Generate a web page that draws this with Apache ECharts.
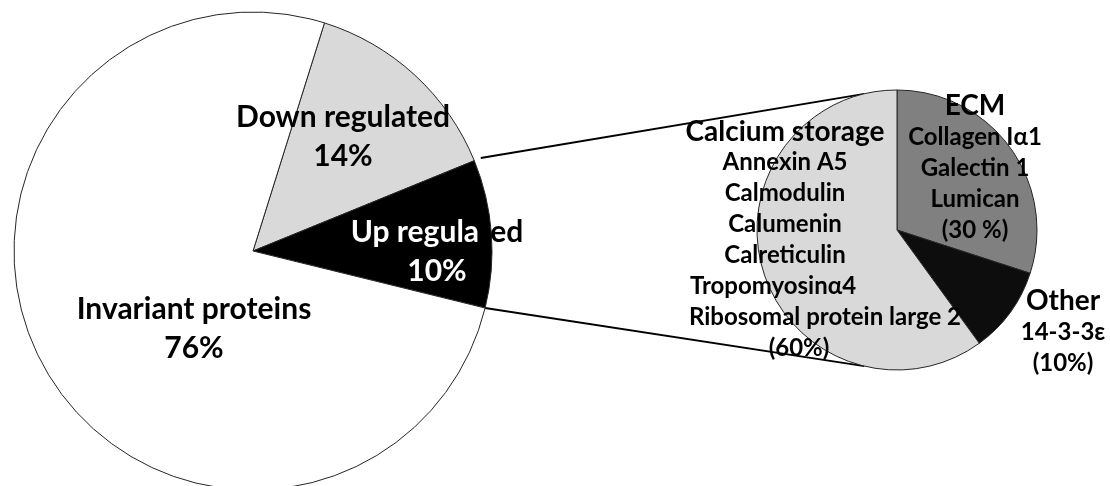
<!DOCTYPE html>
<html>
<head>
<meta charset="utf-8">
<script src="https://cdn.jsdelivr.net/npm/echarts@6/dist/echarts.min.js"></script>
<style>
  html, body { margin: 0; padding: 0; background: #fff; }
  #chart { width: 1110px; height: 486px; }
</style>
</head>
<body>
<div id="chart"></div>
<script>
// Whole proteome: share of proteins by regulation state (%)
const mainNames = ['Down regulated', 'Up regulated', 'Invariant proteins'];
const mainValues = [14, 10, 76];

// Breakdown of the up-regulated proteins by function (%)
const subNames = ['ECM', 'Other', 'Calcium storage'];
const subValues = [30, 10, 60];
const subMembers = [
  ['Collagen Iα1', 'Galectin 1', 'Lumican'],
  ['14-3-3ε'],
  ['Annexin A5', 'Calmodulin', 'Calumenin', 'Calreticulin', 'Tropomyosinα4', 'Ribosomal protein large 2']
];

const FONT = 'Lato, "Open Sans", sans-serif';

// Pie geometry
const mainCenter = [253, 251], mainRadius = 239, mainStart = 72.6;
const subCenter = [897, 230], subRadius = 140, subStart = 90;

const mainColors = ['#d9d9d9', '#000000', '#ffffff'];
const subColors = ['#808080', '#0d0d0d', '#d9d9d9'];

// Label block centres
const mainLabelPos = [[343, 137], [437, 252], [194, 329]];
const subLabelPos = [[975, 168], [1063, 332], [785, 240]];

const bigText = { fontFamily: FONT, fontWeight: 'bold', fontSize: 30, lineHeight: 38.5, color: '#000' };
const titleText = { fontFamily: FONT, fontWeight: 'bold', fontSize: 28, lineHeight: 31, color: '#000' };
const itemText = { fontFamily: FONT, fontWeight: 'bold', fontSize: 24, lineHeight: 31, color: '#000' };

function mainLabel(p) {
  const pct = p.value + '%';
  if (p.dataIndex === 1) {
    // the "t" sits on the slice edge and stays hidden
    return '{w|Up regula}{h|t}{b|ed}\n{w|' + pct + '}';
  }
  return '{b|' + p.name + '}\n{b|' + pct + '}';
}

function subLabel(p) {
  const i = p.dataIndex;
  const pct = i === 0 ? '(' + p.value + ' %)' : '(' + p.value + '%)';
  const lines = ['{t|' + p.name + '}'];
  subMembers[i].forEach(function (m) {
    let style = 's';
    if (m === 'Tropomyosinα4') style = 'sl';
    if (m === 'Ribosomal protein large 2') style = 'sr';
    lines.push('{' + style + '|' + m + '}');
  });
  lines.push('{' + (i === 2 ? 'sp' : 's') + '|' + pct + '}');
  return lines.join('\n');
}

// Angle (degrees clockwise from 12 o'clock) where each slice ends
function sliceEdges(values, startFromTop) {
  const total = values.reduce(function (a, b) { return a + b; }, 0);
  const edges = [startFromTop];
  let acc = startFromTop;
  values.forEach(function (v) { acc += v / total * 360; edges.push(acc); });
  return edges;
}
function polar(c, r, deg) {
  const a = deg * Math.PI / 180;
  return [c[0] + r * Math.sin(a), c[1] - r * Math.cos(a)];
}

// Connectors from the up-regulated slice to the breakdown pie
const mainEdges = sliceEdges(mainValues, 90 - mainStart);
const upFrom = mainEdges[1], upTo = mainEdges[2];
const topStart = polar(mainCenter, mainRadius + 7, upFrom);
const botStart = polar(mainCenter, mainRadius, upTo);
const topEnd = polar(subCenter, subRadius, -13.5);
const botEnd = polar(subCenter, subRadius, 193.5);

const chart = echarts.init(document.getElementById('chart'), null, { renderer: 'canvas' });
chart.setOption({
  backgroundColor: '#ffffff',
  animation: false,
  graphic: [
    { type: 'line', z: 1, shape: { x1: topStart[0], y1: topStart[1], x2: topEnd[0], y2: topEnd[1] }, style: { stroke: '#000', lineWidth: 2 } },
    { type: 'line', z: 1, shape: { x1: botStart[0], y1: botStart[1], x2: botEnd[0], y2: botEnd[1] }, style: { stroke: '#000', lineWidth: 2 } }
  ],
  series: [
    {
      type: 'pie',
      center: mainCenter,
      radius: mainRadius,
      startAngle: mainStart,
      clockwise: true,
      avoidLabelOverlap: false,
      silent: true,
      z: 2,
      itemStyle: { borderColor: '#262626', borderWidth: 1 },
      emphasis: { disabled: true },
      label: {
        show: true,
        position: 'inside',
        align: 'center',
        verticalAlign: 'middle',
        formatter: mainLabel,
        rich: {
          b: bigText,
          w: Object.assign({}, bigText, { color: '#ffffff' }),
          h: Object.assign({}, bigText, { color: 'rgba(0,0,0,0)' })
        }
      },
      labelLine: { show: false },
      labelLayout: function (p) {
        const pos = mainLabelPos[p.dataIndex];
        return { x: pos[0], y: pos[1], align: 'center', verticalAlign: 'middle' };
      },
      data: mainNames.map(function (n, i) {
        return { name: n, value: mainValues[i], itemStyle: { color: mainColors[i] } };
      })
    },
    {
      type: 'pie',
      center: subCenter,
      radius: subRadius,
      startAngle: subStart,
      clockwise: true,
      avoidLabelOverlap: false,
      silent: true,
      z: 2,
      itemStyle: { borderColor: '#262626', borderWidth: 1 },
      emphasis: { disabled: true },
      label: {
        show: true,
        position: 'inside',
        align: 'center',
        verticalAlign: 'middle',
        formatter: subLabel,
        rich: {
          t: titleText,
          s: itemText,
          sl: Object.assign({}, itemText, { padding: [0, 24, 0, 0] }),
          sr: Object.assign({}, itemText, { padding: [0, 0, 0, 80] }),
          sp: Object.assign({}, itemText, { padding: [0, 0, 0, 28] })
        }
      },
      labelLine: { show: false },
      labelLayout: function (p) {
        const pos = subLabelPos[p.dataIndex];
        return { x: pos[0], y: pos[1], align: 'center', verticalAlign: 'middle' };
      },
      data: subNames.map(function (n, i) {
        return { name: n, value: subValues[i], itemStyle: { color: subColors[i] } };
      })
    }
  ]
});
</script>
</body>
</html>
